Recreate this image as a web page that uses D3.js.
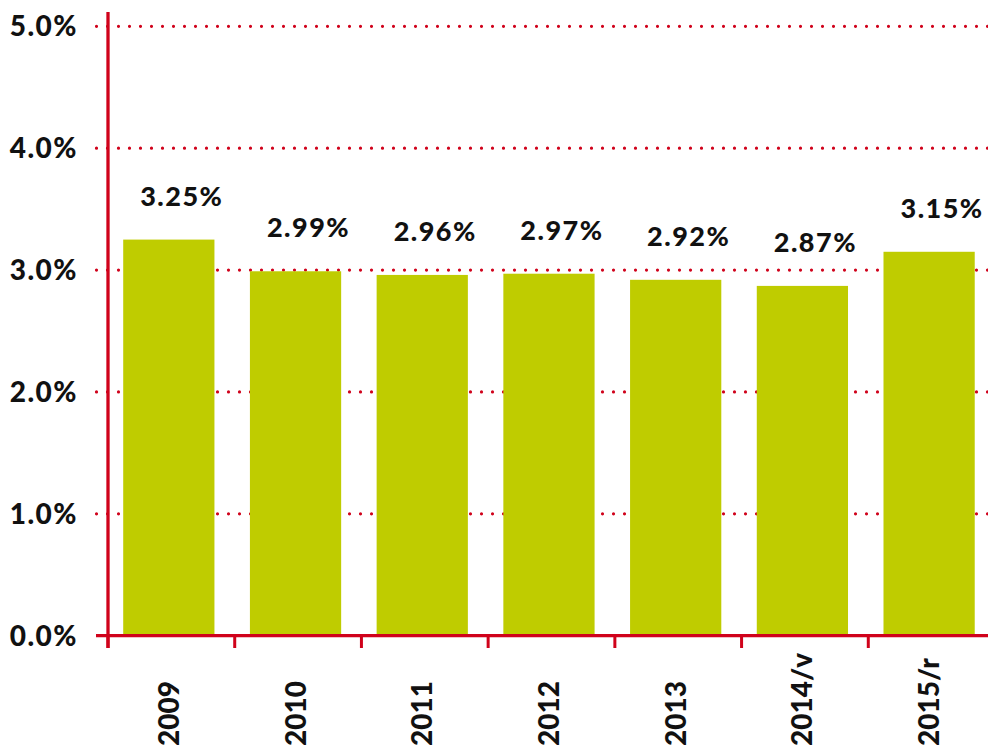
<!DOCTYPE html>
<html><head><meta charset="utf-8">
<script src="https://cdn.jsdelivr.net/npm/d3@7"></script>
<style>html,body{margin:0;padding:0;background:#fff;}svg{display:block;}</style>
</head><body>
<script>
const categories = ["2009","2010","2011","2012","2013","2014/v","2015/r"];
const values = [3.25, 2.99, 2.96, 2.97, 2.92, 2.87, 3.15];
const valueLabels = ["3.25%","2.99%","2.96%","2.97%","2.92%","2.87%","3.15%"];
const yTicks = [0,1,2,3,4,5];
const yTickLabels = ["0.0%","1.0%","2.0%","3.0%","4.0%","5.0%"];

const W = 988, H = 745;
const red = "#D0021B", green = "#BFCC00";
const font = "Lato, 'Open Sans', sans-serif";

const svg = d3.select("body").append("svg").attr("width", W).attr("height", H);

const x = d3.scaleBand().domain(categories).range([108, 995]).padding(0);
const y = d3.scaleLinear().domain([0, 5]).range([635.7, 26.3]);
const step = x.step();
const barW = step * 0.72;
const barOff = step * 0.12;

// gridlines
svg.append("g").selectAll("line").data(yTicks.filter(d => d > 0)).join("line")
  .attr("x1", 96.5).attr("x2", W).attr("y1", d => y(d)).attr("y2", d => y(d))
  .attr("stroke", red).attr("stroke-width", 3.2).attr("stroke-linecap", "round")
  .attr("stroke-dasharray", "0 11");

// bars
svg.append("g").selectAll("rect").data(values).join("rect")
  .attr("x", (d, i) => x(categories[i]) + barOff)
  .attr("width", barW)
  .attr("y", d => y(d))
  .attr("height", d => y(0) - y(d))
  .attr("fill", green);

// value labels
svg.append("g").selectAll("text").data(values).join("text")
  .attr("x", (d, i) => x(categories[i]) + barOff + barW / 2 + 13)
  .attr("y", d => y(d) - 34)
  .attr("text-anchor", "middle")
  .attr("font-family", font).attr("font-weight", 900).attr("font-size", 27)
  .attr("letter-spacing", 1.5)
  .attr("fill", "#111")
  .text((d, i) => valueLabels[i]);

// y axis line
svg.append("line").attr("x1", 108).attr("x2", 108).attr("y1", 12).attr("y2", 648)
  .attr("stroke", red).attr("stroke-width", 3.3);

// baseline
svg.append("line").attr("x1", 96).attr("x2", W).attr("y1", y(0)).attr("y2", y(0))
  .attr("stroke", red).attr("stroke-width", 3.3);

// x ticks (category boundaries)
const bounds = categories.map(c => x(c));
svg.append("g").selectAll("line").data(bounds).join("line")
  .attr("x1", d => d).attr("x2", d => d).attr("y1", y(0)).attr("y2", 648)
  .attr("stroke", red).attr("stroke-width", 3);

// y tick labels
svg.append("g").selectAll("text").data(yTicks).join("text")
  .attr("x", 78).attr("y", d => y(d)).attr("dy", "0.36em")
  .attr("text-anchor", "end")
  .attr("font-family", font).attr("font-weight", 900).attr("font-size", 28)
  .attr("letter-spacing", 1.5)
  .attr("fill", "#111")
  .text((d, i) => yTickLabels[i]);

// x category labels (rotated)
svg.append("g").selectAll("text").data(categories).join("text")
  .attr("transform", d => `translate(${x(d) + barOff + barW / 2},746) rotate(-90)`)
  .attr("dy", "0.36em")
  .attr("text-anchor", "start")
  .attr("font-family", font).attr("font-weight", 900).attr("font-size", 28)
  .attr("fill", "#111")
  .text(d => d);
</script>
</body></html>
